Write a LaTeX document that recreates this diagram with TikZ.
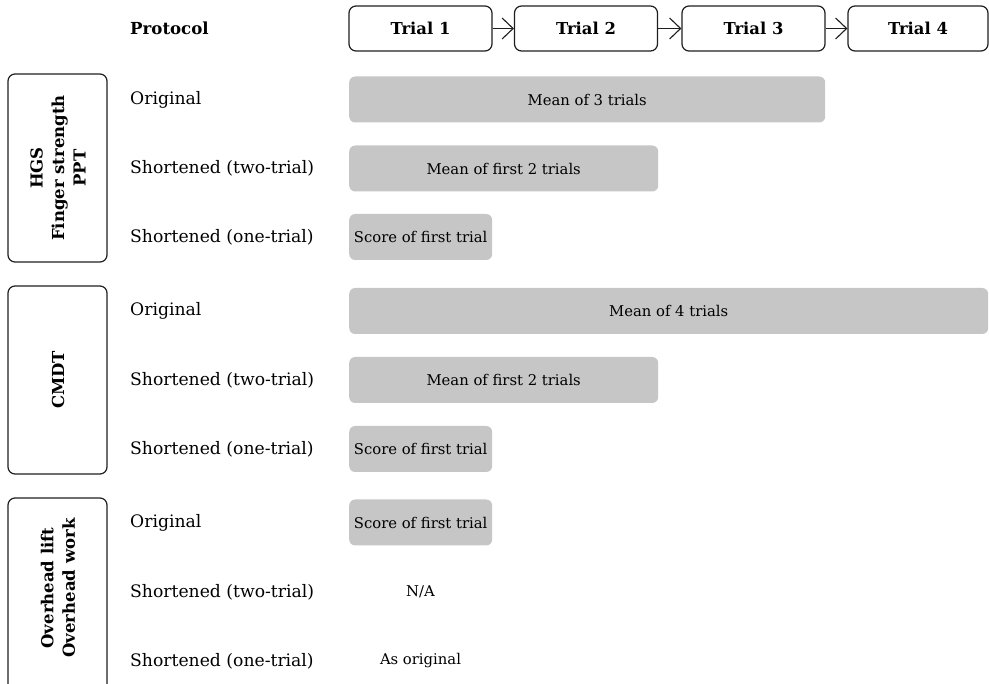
\documentclass[tikz,border=0pt]{standalone}
\usepackage{fontspec}
\setmainfont{DejaVu Serif}
\usetikzlibrary{arrows.meta}
\definecolor{bargray}{RGB}{198,198,198}
\definecolor{edge}{RGB}{30,30,30}
\tikzset{
  trialbox/.style={draw=edge, line width=1.2pt, rounded corners=7pt, minimum width=143pt, minimum height=45pt, inner sep=0pt, font=\fontsize{16.4}{19}\selectfont\bfseries},
  groupbox/.style={draw=edge, line width=1.2pt, rounded corners=7pt},
  grouplabel/.style={rotate=90, align=center, font=\fontsize{16.5}{21.5}\selectfont\bfseries},
  bar/.style={fill=bargray, rounded corners=6pt, minimum height=46pt, inner sep=0pt, anchor=west, font=\fontsize{14.8}{17}\selectfont},
  rowlabel/.style={anchor=west, inner sep=0pt, font=\fontsize{17.2}{20}\selectfont},
  plain/.style={inner sep=0pt, font=\fontsize{14.8}{17}\selectfont},
  flow/.style={draw=edge, line width=1.1pt, -{Straight Barb[length=11pt,width=21pt,line width=1.1pt]}}
}
\begin{document}
\begin{tikzpicture}[x=1pt,y=-1pt]
\clip (0,0) rectangle (989,684);
\useasboundingbox (0,0) rectangle (989,684);
% header
\node[rowlabel, font=\fontsize{16.6}{19}\selectfont\bfseries] (proto) at (130,28) {Protocol};
\node[trialbox] (t1) at (420.5,28.5) {Trial 1};
\node[trialbox] (t2) at (586,28.5) {Trial 2};
\node[trialbox] (t3) at (753.5,28.5) {Trial 3};
\node[trialbox, minimum width=140pt] (t4) at (918,28.5) {Trial 4};
\draw[flow] (t1) -- (t2);
\draw[flow] (t2) -- (t3);
\draw[flow] (t3) -- (t4);
% group boxes
\draw[groupbox] (8,74) rectangle (107,262);
\node[grouplabel] (g1) at (58,168) {HGS\\Finger strength\\PPT};
\draw[groupbox] (8,286) rectangle (107,474);
\node[grouplabel] (g2) at (58,380) {CMDT};
\draw[groupbox] (8,498) rectangle (107,700);
\node[grouplabel] (g3) at (58,588) {Overhead lift\\Overhead work};
% row labels
\node[rowlabel] (r1) at (130,99.5) {Original};
\node[rowlabel] (r2) at (130,168.5) {Shortened (two-trial)};
\node[rowlabel] (r3) at (130,237) {Shortened (one-trial)};
\node[rowlabel] (r4) at (130,311) {Original};
\node[rowlabel] (r5) at (130,380) {Shortened (two-trial)};
\node[rowlabel] (r6) at (130,449) {Shortened (one-trial)};
\node[rowlabel] (r7) at (130,522.5) {Original};
\node[rowlabel] (r8) at (130,592) {Shortened (two-trial)};
\node[rowlabel] (r9) at (130,661) {Shortened (one-trial)};
% bars
\node[bar, minimum width=476pt] (b1) at (349,99.5) {Mean of 3 trials};
\node[bar, minimum width=309pt] (b2) at (349,168.5) {Mean of first 2 trials};
\node[bar, minimum width=143pt] (b3) at (349,237) {Score of first trial};
\node[bar, minimum width=639pt] (b4) at (349,311) {Mean of 4 trials};
\node[bar, minimum width=309pt] (b5) at (349,380) {Mean of first 2 trials};
\node[bar, minimum width=143pt] (b6) at (349,449) {Score of first trial};
\node[bar, minimum width=143pt] (b7) at (349,522.5) {Score of first trial};
\node[plain] (b8) at (420.5,592) {N/A};
\node[plain] (b9) at (420.5,661) {As original};
\end{tikzpicture}
\end{document}
